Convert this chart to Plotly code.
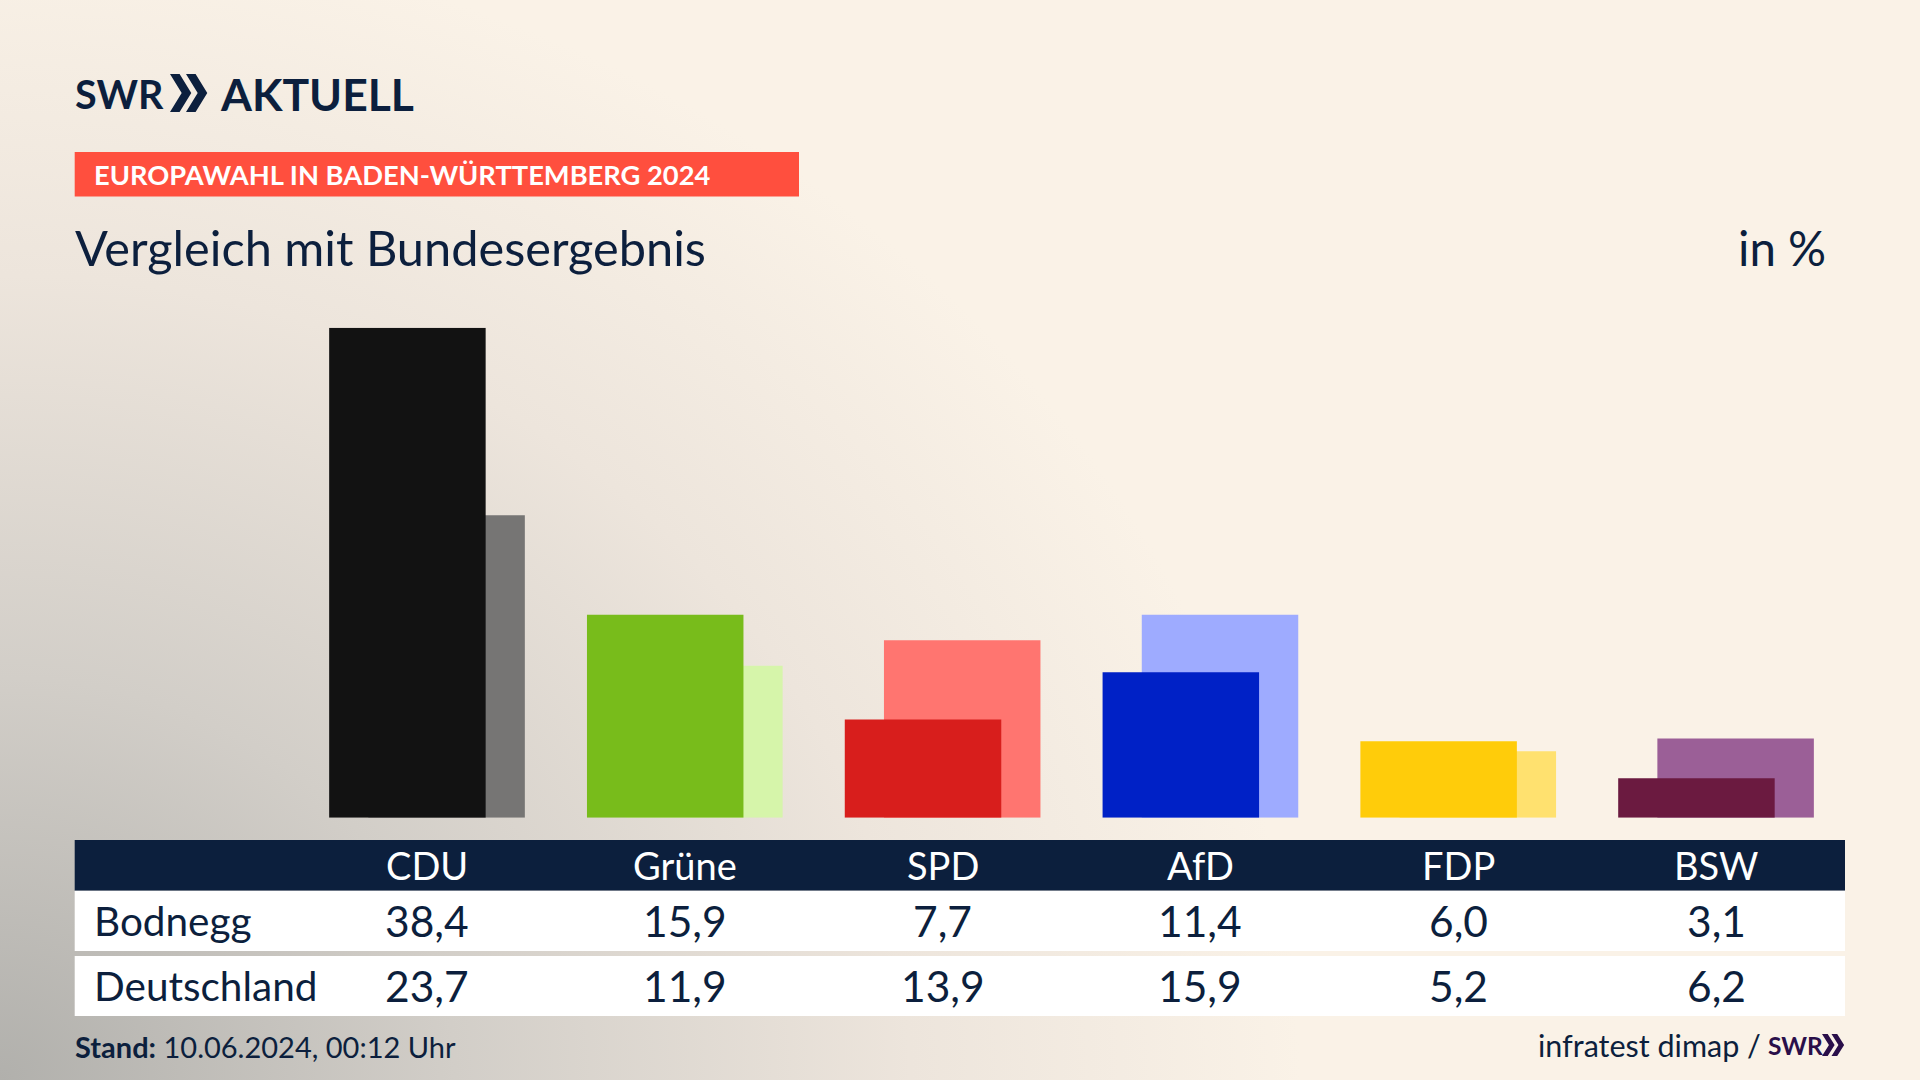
import base64
import plotly.express as px

parties = ["CDU", "Grüne", "SPD", "AfD", "FDP", "BSW"]
bodnegg = [38.4, 15.9, 7.7, 11.4, 6.0, 3.1]
deutschland = [23.7, 11.9, 13.9, 15.9, 5.2, 6.2]
bodnegg_labels = ["38,4", "15,9", "7,7", "11,4", "6,0", "3,1"]
deutschland_labels = ["23,7", "11,9", "13,9", "15,9", "5,2", "6,2"]
dark_colors = ["#121212", "#78BC1B", "#D81E1C", "#0021C6", "#FFCC0A", "#6B1A40"]
light_colors = ["#767574", "#D6F5AA", "#FF7570", "#9EABFF", "#FFE16F", "#9B5F97"]

NAVY = "#0C1F3D"
FONT = "Lato"
BACKGROUND = """<svg xmlns="http://www.w3.org/2000/svg" width="1920" height="1080" preserveAspectRatio="none">
<defs><radialGradient id="g" gradientUnits="userSpaceOnUse" cx="0" cy="0" r="1"
gradientTransform="translate(0 1080) scale(1300 1150)">
<stop offset="0" stop-color="#B1B0AC"/><stop offset="0.35" stop-color="#D2CEC8"/>
<stop offset="0.7" stop-color="#EDE5DC"/><stop offset="1" stop-color="#FAF2E7"/>
</radialGradient></defs><rect width="1920" height="1080" fill="url(#g)"/></svg>"""


def px_x(value):
    return value / 1920


def px_y(value):
    return 1 - value / 1080


def add_box(fig, left, top, right, bottom, color):
    fig.add_shape(type="rect", xref="paper", yref="paper", layer="below",
                  x0=px_x(left), x1=px_x(right), y0=px_y(bottom), y1=px_y(top),
                  fillcolor=color, line_width=0)


def add_text(fig, text, x, y, size, color=NAVY, anchor="left", xref="paper"):
    if xref == "paper":
        x = px_x(x)
    fig.add_annotation(text=text, xref=xref, yref="paper", x=x, y=px_y(y), showarrow=False,
                       xanchor=anchor, yanchor="middle", borderpad=0, borderwidth=0,
                       font=dict(family=FONT, size=size, color=color))


def add_chevrons(fig, left, top, width, height, color):
    # two arrow heads of the logo, drawn as a path
    half = width / 2
    tip = width * 0.3
    for start in [left, left + half]:
        path = "M {} {} L {} {} L {} {} L {} {} L {} {} L {} {} Z".format(
            px_x(start), px_y(top), px_x(start + tip), px_y(top),
            px_x(start + half + tip * 0.55), px_y(top + height / 2), px_x(start + tip), px_y(top + height),
            px_x(start), px_y(top + height), px_x(start + half - tip * 0.45), px_y(top + height / 2))
        fig.add_shape(type="path", path=path, xref="paper", yref="paper", fillcolor=color, line_width=0)


def draw_bars():
    fig = px.bar(x=parties, y=deutschland, color=parties, color_discrete_sequence=light_colors,
                 barmode="overlay")
    fig.update_traces(width=0.607, offset=-0.2275, marker_line_width=0, marker_opacity=1)
    front = px.bar(x=parties, y=bodnegg, color=parties, color_discrete_sequence=dark_colors)
    front.update_traces(width=0.607, offset=-0.3795, marker_line_width=0, marker_opacity=1)
    fig.add_traces(front.data)
    return fig


def draw_table(fig):
    add_box(fig, 74.7, 840, 1845, 890.7, NAVY)
    add_box(fig, 74.7, 890.7, 1845, 951, "white")
    add_box(fig, 74.7, 956, 1845, 1016, "white")
    add_text(fig, "Bodnegg", 94, 920, 40.5)
    add_text(fig, "Deutschland", 94, 985, 40.5)
    for i, party in enumerate(parties):
        add_text(fig, party, i, 865, 38, color="white", anchor="center", xref="x")
        add_text(fig, bodnegg_labels[i], i, 920, 42.5, anchor="center", xref="x")
        add_text(fig, deutschland_labels[i], i, 985, 42.5, anchor="center", xref="x")


def draw_header(fig):
    add_text(fig, "<b>SWR</b>", 75, 93, 39.5)
    add_chevrons(fig, 170, 74, 32, 38, NAVY)
    add_text(fig, "<b>AKTUELL</b>", 220, 93, 44.5)
    add_box(fig, 74.7, 152, 799, 196.6, "#FF4F3E")
    add_text(fig, "<b>EUROPAWAHL IN BADEN-WÜRTTEMBERG 2024</b>", 94, 175, 27.3, color="white")
    add_text(fig, "Vergleich mit Bundesergebnis", 75, 247, 48.7)
    add_text(fig, "in %", 1826, 247, 47.5, anchor="right")


def draw_footer(fig):
    add_text(fig, "<b>Stand:</b> 10.06.2024, 00:12 Uhr", 75, 1046, 29)
    add_text(fig, "infratest dimap /", 1761, 1045, 30.5, anchor="right")
    add_text(fig, "<b>SWR</b>", 1768, 1045, 24.5, color="#2A0F4A")
    add_chevrons(fig, 1822, 1034, 19, 22, "#2A0F4A")


if __name__ == '__main__':
    fig = draw_bars()
    fig.update_layout(
        width=1920,
        height=1080,
        margin=dict(l=0, r=0, t=0, b=0),
        paper_bgcolor="#FAF2E7",
        plot_bgcolor="rgba(0,0,0,0)",
        showlegend=False,
        images=[dict(
            source="data:image/svg+xml;base64," + base64.b64encode(BACKGROUND.encode()).decode(),
            xref="paper", yref="paper", x=0, y=1, sizex=1, sizey=1,
            sizing="stretch", xanchor="left", yanchor="top", layer="below"
        )]
    )
    fig.update_xaxes(
        domain=[0, 1],
        range=[-1.6563, 5.7912],
        visible=False
    )
    fig.update_yaxes(
        domain=[px_y(817.7), px_y(327.7)],
        range=[0, 38.4],
        visible=False
    )
    draw_table(fig)
    draw_header(fig)
    draw_footer(fig)
    fig.write_html("out.html", config=dict(displayModeBar=False),
                   post_script="document.body.style.margin='0';document.body.style.overflow='hidden';")
